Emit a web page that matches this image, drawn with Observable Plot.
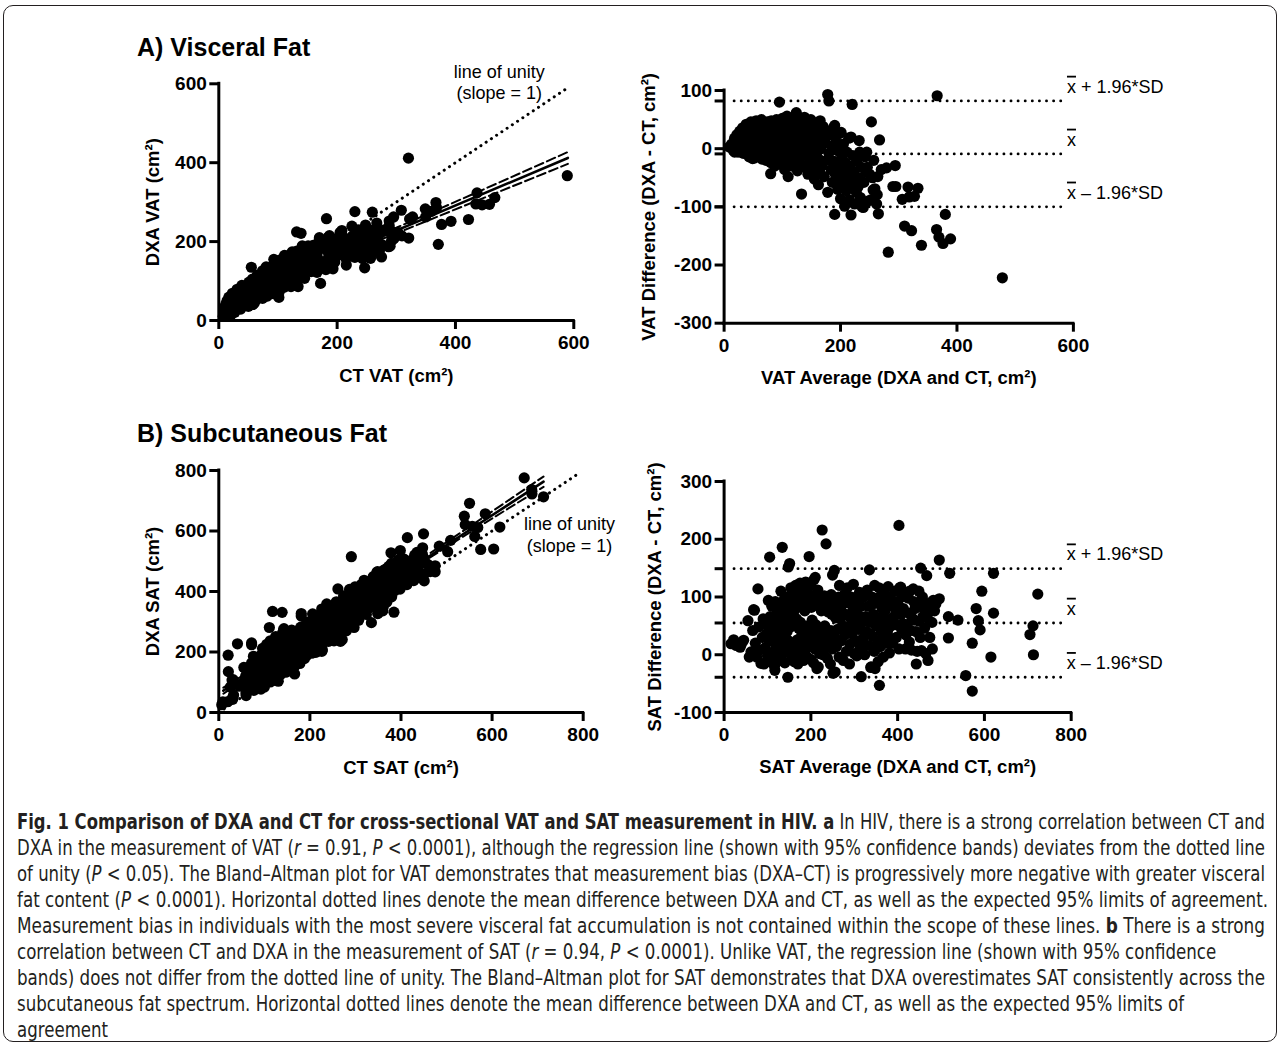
<!DOCTYPE html>
<html><head><meta charset="utf-8">
<script src="https://cdn.jsdelivr.net/npm/d3@7"></script>
<script src="https://cdn.jsdelivr.net/npm/@observablehq/plot@0.6"></script>
<style>
html,body{margin:0;padding:0;background:#fff;}
#page{position:relative;width:1281px;height:1043px;overflow:hidden;font-family:"Liberation Sans",Arial,sans-serif;}
#border{position:absolute;left:3px;top:5px;width:1274px;height:1037px;border:1.5px solid #231f20;border-radius:10px;box-sizing:border-box;}
.title{position:absolute;left:137px;font-weight:bold;font-size:25px;line-height:25px;white-space:nowrap;color:#000;}
.panel{position:absolute;}
#caption{position:absolute;left:17px;top:809px;font-family:"Liberation Sans Narrow","DejaVu Sans Condensed","Roboto",sans-serif;font-size:21px;color:#231f20;}
.cl{height:26px;line-height:26px;white-space:nowrap;}
.cl span{display:inline-block;transform-origin:0 50%;}
</style></head>
<body>
<div id="page">
  <div id="border"></div>
  <div class="title" style="top:35px">A) Visceral Fat</div>
  <div class="title" style="top:421px">B) Subcutaneous Fat</div>
  <div class="panel" id="pA1" style="left:120px;top:60px"></div>
  <div class="panel" id="pA2" style="left:620px;top:60px"></div>
  <div class="panel" id="pB1" style="left:120px;top:450px"></div>
  <div class="panel" id="pB2" style="left:620px;top:450px"></div>
  <div id="caption">
    <div class="cl"><span><b>Fig. 1 Comparison of DXA and CT for cross-sectional VAT and SAT measurement in HIV. a</b> In HIV, there is a strong correlation between CT and</span></div>
    <div class="cl"><span>DXA in the measurement of VAT (<i>r</i> = 0.91, <i>P</i> &lt; 0.0001), although the regression line (shown with 95% confidence bands) deviates from the dotted line</span></div>
    <div class="cl"><span>of unity (<i>P</i> &lt; 0.05). The Bland–Altman plot for VAT demonstrates that measurement bias (DXA–CT) is progressively more negative with greater visceral</span></div>
    <div class="cl"><span>fat content (<i>P</i> &lt; 0.0001). Horizontal dotted lines denote the mean difference between DXA and CT, as well as the expected 95% limits of agreement.</span></div>
    <div class="cl"><span>Measurement bias in individuals with the most severe visceral fat accumulation is not contained within the scope of these lines. <b>b</b> There is a strong</span></div>
    <div class="cl"><span>correlation between CT and DXA in the measurement of SAT (<i>r</i> = 0.94, <i>P</i> &lt; 0.0001). Unlike VAT, the regression line (shown with 95% confidence</span></div>
    <div class="cl"><span>bands) does not differ from the dotted line of unity. The Bland–Altman plot for SAT demonstrates that DXA overestimates SAT consistently across the</span></div>
    <div class="cl"><span>subcutaneous fat spectrum. Horizontal dotted lines denote the mean difference between DXA and CT, as well as the expected 95% limits of</span></div>
    <div class="cl"><span>agreement</span></div>
  </div>
</div>
<script>
// ---------------- DATA ----------------
// VAT: each subject as [average of DXA and CT, difference DXA - CT] (cm²)
const vatPoints = [
[9,3],[13,8],[16,-3],[18,18],[18,-6],[20,5],[22,24],[24,-6],[25,12],[27,30],[29,2],[30,20],[32,36],[33,-8],[34,10],[36,26],[38,42],[39,-2],[40,16],[42,34],[43,-14],[44,6],[46,46],[47,24],[48,-4],[49,-17],[50,38],[51,12],[52,-16],[54,30],[55,48],[56,2],[58,20],[59,40],[60,-10],
[62,32],[63,8],[64,50],[65,-18],[66,22],[68,42],[69,-4],[70,14],[71,30],[72,-20],[74,46],[75,4],[76,24],[77,-12],[78,36],[79,16],[80,-24],[80,-43],[81,48],[82,6],[83,28],[84,-8],[85,40],[86,18],[87,-30],[88,0],[89,34],[90,50],[91,12],[92,-18],[93,26],[94,42],[95,80],[95,-2],[96,20],[97,-26],[98,36],[99,8],[100,52],[101,-12],[102,28],[103,44],[104,-36],[105,14],[106,-4],[107,32],[108,56],[109,20],[110,-22],[110,-48],[111,40],[112,4],[113,26],[114,-10],[115,48],[116,14],[117,-30],[118,34],[119,-2],[120,22],
[121,44],[122,-16],[123,8],[124,62],[125,30],[126,-38],[127,18],[128,-6],[129,50],[130,36],[131,-26],[132,10],[133,-78],[134,24],[135,42],[136,-12],[137,2],[138,54],[139,30],[140,-32],[141,16],[142,46],[143,-4],[144,-44],[145,26],[146,38],[147,8],[148,-20],[149,50],[150,-36],[151,20],[152,32],[153,-8],[154,44],[155,-52],[156,4],[157,24],[158,-26],[159,40],[160,12],[161,-16],[162,-62],[163,30],[164,-40],[165,48],[166,0],[167,20],[168,-30],[170,38],
[172,-48],[174,10],[175,31],[176,-20],[178,93],[178,-75],[180,82],[180,-8],[182,24],[184,-36],[185,4],[186,-58],[188,36],[189,-22],[190,40],[190,-113],[191,-44],[192,12],[194,-30],[195,-70],[196,-4],[198,26],[199,-52],[200,-86],[201,28],[202,-16],[204,-62],[205,8],[206,-38],[207,-99],[208,-24],[210,-72],[211,-6],[213,-48],[214,18],[215,-88],[216,-30],[218,20],[218,-114],[219,-58],[220,76],[221,-12],[223,-40],[224,-95],[225,-70],[227,-75],[228,-22],[230,-66],[231,-50],[232,14],[233,-6],[234,-84],[236,-32],[237,-100],[239,-101],[240,-58],[242,-14],[244,-40],[245,-6],[246,-32],[247,-90],[250,-44],[252,-88],[253,46],[255,-50],[256,-71],[257,-20],[259,-69],[262,-95],[263,-79],[264,-48],[265,-112],[267,15],[270,-36],
[279,-33],[282,-178],[290,-65],[294,-29],[295,-65],[306,-87],[310,-133],[316,-66],[322,-141],[318,-83],[327,-82],[333,-68],[339,-166],[365,-139],[366,91],[369,-152],[376,-163],[380,-113],[389,-155],[478,-222]
];
// SAT: each subject as [average of DXA and CT, difference DXA - CT] (cm²)
const satPoints = [
[16,19],[22,26],[28,16],[37,13],[40,19],[45,25],[55,59],[58,-4],[62,5],[66,42],[68,78],[70,77],[72,20],[75,-4],[78,114],[80,48],[82,8],[85,-15],[88,30],[90,62],[92,-16],[95,12],[96,52],[98,36],[100,-2],
[102,94],[104,24],[105,169],[106,66],[107,-12],[108,44],[110,84],[112,4],[113,58],[115,30],[116,-20],[117,-27],[118,92],[120,14],[121,50],[122,72],[124,-4],[125,36],[126,88],[128,20],[129,60],[130,-10],[131,110],[133,44],[134,186],[135,2],[136,76],[138,28],[139,96],[140,-14],[141,56],[143,12],[144,68],[145,40],[146,100],[147,-39],[148,152],[149,24],[150,84],
[151,158],[152,6],[153,48],[154,116],[155,-8],[156,66],[158,92],[159,108],[160,16],[161,52],[162,-12],[163,78],[165,120],[166,2],[167,62],[168,88],[169,26],[170,-16],[171,104],[172,46],[174,12],[175,124],[176,56],[177,-6],[178,84],[179,34],[180,98],[181,20],[183,-10],[184,112],[185,44],[186,76],[187,8],[188,126],[189,30],[191,-4],[192,94],[193,50],[194,106],[195,14],[196,170],[198,38],[199,120],[200,-8],
[201,82],[202,24],[203,60],[204,100],[205,42],[206,-14],[207,130],[209,10],[210,134],[211,52],[212,90],[213,30],[214,-24],[216,112],[217,-21],[218,46],[219,84],[220,2],[221,98],[223,18],[224,76],[225,40],[226,216],[227,94],[228,0],[230,28],[231,102],[232,50],[233,80],[234,12],[235,192],[237,96],[238,-6],[239,36],[240,74],[241,100],[242,20],[244,88],[245,-16],[246,42],[247,104],[248,70],[249,10],[250,138],[251,-32],[253,86],[254,146],[255,30],[256,-30],[257,64],[258,94],[259,14],[260,76],
[262,44],[264,100],[265,-4],[266,120],[268,62],[270,24],[272,86],[274,50],[275,-10],[277,104],[278,34],[280,70],[282,6],[284,116],[285,48],[287,90],[289,-16],[290,18],[291,64],[293,100],[295,36],[297,78],[298,122],[300,2],[301,54],[302,70],[303,92],[305,24],[306,-2],[308,70],[309,96],[310,44],[312,108],[313,14],[315,84],[316,-38],[317,12],[318,56],[320,28],[322,100],[323,60],[324,0],[326,66],[328,40],[329,104],[330,112],[332,84],[334,16],[335,147],[336,56],[337,36],[338,-22],[339,-21],
[341,100],[342,32],[343,88],[344,70],[346,6],[347,120],[348,-24],[349,10],[350,50],[352,90],[354,22],[355,-12],[356,64],[357,116],[358,-53],[359,100],[360,14],[362,40],[363,54],[364,80],[366,28],[367,-4],[368,110],[370,58],[371,76],[372,20],[374,92],[376,60],[377,42],[378,118],[380,30],[381,3],[382,98],[383,100],[385,50],[387,86],[388,20],[389,62],[391,66],[392,82],[394,110],[396,52],[397,30],[398,70],[400,92],[402,84],[403,224],[403,10],[405,116],[407,117],[408,70],[409,44],[410,100],[412,54],[413,80],[415,108],[418,10],[419,34],[420,108],[422,52],[424,98],[425,72],
[427,22],[428,110],[430,42],[432,8],[433,64],[436,114],[437,92],[438,60],[440,80],[442,40],[443,-16],[445,6],[447,88],[449,110],[450,58],[452,30],[453,150],[453,88],[455,7],[457,100],[458,66],[460,80],[462,46],[465,2],[467,137],[468,64],[470,-10],[472,74],[474,30],[475,90],[477,80],[479,56],[480,10],[482,94],[485,76],[488,88],[496,97],[496,164],
[517,66],[517,29],[520,141],[539,60],[557,-36],[572,20],[572,-63],[581,80],[586,59],[590,43],[594,110],[615,-4],[621,141],[621,72],[705,35],[712,50],[713,0],[723,105]
];

// Regression fits with 95% confidence bands
const vatFitX = [10, 590];
const vatFitY = [44, 412];
const vatBandX = [10, 150, 300, 450, 590];
const vatBandLo = [38, 129, 221, 312, 397];
const vatBandHi = [50, 137, 235, 334, 427];
const vatUnity = [0, 592];

const satFitX = [10, 713];
const satFitY = [72, 763];
const satBandX = [10, 250, 500, 713];
const satBandLo = [62, 303, 547, 746];
const satBandHi = [82, 313, 563, 780];
const satUnity = [0, 790];

// Bland–Altman lines: mean + 1.96 SD, mean, mean − 1.96 SD
const vatLimits = [82, -9, -100];
const satLimits = [149, 55, -39];
const limitLabels = ["x + 1.96*SD", "x", "x – 1.96*SD"];

// Axis ticks
const vatScatterTicks = [0, 200, 400, 600];
const vatBaXTicks = [0, 200, 400, 600];
const vatBaYTicks = [-300, -200, -100, 0, 100];
const satScatterTicks = [0, 200, 400, 600, 800];
const satBaXTicks = [0, 200, 400, 600, 800];
const satBaYTicks = [-100, 0, 100, 200, 300];

// Unity annotation
const unityText = ["line of unity", "(slope = 1)"];

// ---------------- DRAWING ----------------
const vat = vatPoints.map(([a, d]) => ({avg: a, diff: d, ct: a - d / 2, dxa: a + d / 2}));
const sat = satPoints.map(([a, d]) => ({avg: a, diff: d, ct: a - d / 2, dxa: a + d / 2}));

const FONT = "'Liberation Sans', Arial, sans-serif";
const DOT_R = 5.6;
const axisStyle = {tickSize: 9, strokeWidth: 3, fontSize: 19, fontWeight: "bold", tickFormat: d => String(d)};
const dotted = {stroke: "#000", strokeWidth: 3, strokeDasharray: "0.1,6.2", strokeLinecap: "round"};
const baDotted = {stroke: "#000", strokeWidth: 2.8, strokeDasharray: "0.1,7", strokeLinecap: "round"};

function axesMarks(xTicks, yTicks, yMin, extraY) {
  const m = [
    Plot.ruleX([0], {strokeWidth: 3, strokeLinecap: "square"}),
    Plot.ruleY([yMin], {strokeWidth: 3, strokeLinecap: "square"}),
    Plot.axisX(xTicks, {...axisStyle, tickPadding: 6, label: null}),
    Plot.axisY(yTicks, {...axisStyle, tickPadding: 3, label: null})
  ];
  if (extraY) m.push(Plot.axisY(extraY, {tickSize: 9, strokeWidth: 3, tickFormat: () => "", label: null}));
  return m;
}
function titleX(t, dy) {
  return Plot.text([t], {text: d => d, frameAnchor: "bottom", dy, textAnchor: "middle", lineAnchor: "middle", fontSize: 18.5, fontWeight: "bold"});
}
function titleY(t, dx) {
  return Plot.text([t], {text: d => d, frameAnchor: "left", dx, rotate: -90, textAnchor: "middle", lineAnchor: "middle", fontSize: 18.5, fontWeight: "bold"});
}
function scatterPanel(o) {
  return Plot.plot({
    width: o.width, height: o.height,
    marginLeft: o.ml, marginRight: o.mr, marginTop: o.mt, marginBottom: o.mb,
    x: {domain: o.domain, label: null},
    y: {domain: o.domain, label: null},
    style: {fontFamily: FONT, color: "#000", background: "transparent", overflow: "visible"},
    marks: [
      Plot.line(o.unity, {x: d => d, y: d => d, ...dotted}),
      Plot.line(o.bandX, {x: d => d, y: (d, i) => o.bandLo[i], curve: "natural", stroke: "#000", strokeWidth: 2, strokeDasharray: "9,4"}),
      Plot.line(o.bandX, {x: d => d, y: (d, i) => o.bandHi[i], curve: "natural", stroke: "#000", strokeWidth: 2, strokeDasharray: "9,4"}),
      Plot.line(o.fitX, {x: d => d, y: (d, i) => o.fitY[i], stroke: "#000", strokeWidth: 2.6}),
      Plot.dot(o.data, {x: "ct", y: "dxa", r: DOT_R, fill: "#000", stroke: "none"}),
      Plot.text(unityText, {x: o.noteX, y: (d, i) => o.noteY[i], text: d => d, fontSize: 18, fontWeight: "normal", textAnchor: "middle"}),
      ...axesMarks(o.ticks, o.ticks, 0, null),
      titleX(o.xTitle, 56),
      titleY(o.yTitle, -66)
    ]
  });
}
function baPanel(o) {
  const rows = o.limits.map((v, i) => ({v, label: limitLabels[i]}));
  return Plot.plot({
    width: o.width, height: o.height,
    marginLeft: o.ml, marginRight: o.mr, marginTop: o.mt, marginBottom: o.mb,
    x: {domain: o.xDomain, label: null},
    y: {domain: o.yDomain, label: null},
    style: {fontFamily: FONT, color: "#000", background: "transparent", overflow: "visible"},
    marks: [
      Plot.ruleY(rows, {y: "v", x1: o.lineX[0], x2: o.lineX[1], ...baDotted}),
      Plot.dot(o.data, {x: "avg", y: "diff", r: DOT_R, fill: "#000", stroke: "none"}),
      Plot.text(rows, {x: o.lineX[1], y: "v", text: "label", dy: -14, dx: 0, textAnchor: "start", fontSize: 18, fontWeight: "normal"}),
      ...axesMarks(o.xTicks, o.yTicks, o.yDomain[0], o.limits),
      titleX(o.xTitle, 55),
      titleY(o.yTitle, o.yTitleDx)
    ]
  });
}
function overline(svg) {
  const ns = "http://www.w3.org/2000/svg";
  svg.querySelectorAll("text").forEach(t => {
    const s = t.textContent;
    if (limitLabels.includes(s)) {
      t.textContent = "";
      const a = document.createElementNS(ns, "tspan");
      a.textContent = "x";
      a.setAttribute("text-decoration", "overline");
      a.style.textDecoration = "overline";
      t.appendChild(a);
      if (s.length > 1) {
        const b = document.createElementNS(ns, "tspan");
        b.textContent = s.slice(1);
        t.appendChild(b);
      }
    }
  });
}
function mount(id, svg, w) {
  const el = document.getElementById(id);
  el.style.width = w + "px";
  el.appendChild(svg);
}

const A1 = scatterPanel({
  width: 483.3, height: 340, ml: 98.3, mr: 30, mt: 23.3, mb: 80,
  domain: [0, 600], ticks: vatScatterTicks, data: vat,
  unity: vatUnity, fitX: vatFitX, fitY: vatFitY, bandX: vatBandX, bandLo: vatBandLo, bandHi: vatBandHi,
  noteX: 474, noteY: [629, 575],
  xTitle: "CT VAT (cm²)", yTitle: "DXA VAT (cm²)"
});
mount("pA1", A1, 483.3);

const A2 = baPanel({
  width: 582.9, height: 342.7, ml: 103.6, mr: 130, mt: 30, mb: 80,
  xDomain: [0, 600], yDomain: [-300, 100], xTicks: vatBaXTicks, yTicks: vatBaYTicks,
  data: vat, limits: vatLimits, lineX: [18, 589], yTitleDx: -75,
  xTitle: "VAT Average (DXA and CT, cm²)", yTitle: "VAT Difference (DXA - CT, cm²)"
});
overline(A2);
mount("pA2", A2, 582.9);

const B1 = scatterPanel({
  width: 502.7, height: 342, ml: 98.3, mr: 40, mt: 20, mb: 80,
  domain: [0, 800], ticks: satScatterTicks, data: sat,
  unity: satUnity, fitX: satFitX, fitY: satFitY, bandX: satBandX, bandLo: satBandLo, bandHi: satBandHi,
  noteX: 770, noteY: [624, 551],
  xTitle: "CT SAT (cm²)", yTitle: "DXA SAT (cm²)"
});
mount("pB1", B1, 502.7);

const B2 = baPanel({
  width: 580.7, height: 342, ml: 103.6, mr: 130, mt: 31, mb: 80,
  xDomain: [0, 800], yDomain: [-100, 300], xTicks: satBaXTicks, yTicks: satBaYTicks,
  data: sat, limits: satLimits, lineX: [24, 790], yTitleDx: -69,
  xTitle: "SAT Average (DXA and CT, cm²)", yTitle: "SAT Difference (DXA - CT, cm²)"
});
overline(B2);
mount("pB2", B2, 580.7);

// Caption: fit each line to the printed measure
const targets = [1248, 1248, 1248, 1251, 1248, null, 1248, null, null];
const spans = [...document.querySelectorAll("#caption .cl span")];
const widths = spans.map(s => s.getBoundingClientRect().width);
const ks = [];
targets.forEach((t, i) => { if (t) ks.push(t / widths[i]); });
const kAvg = d3.mean(ks);
spans.forEach((s, i) => {
  const k = targets[i] ? targets[i] / widths[i] : kAvg;
  s.style.transform = `scaleX(${k})`;
});
</script>
</body></html>
